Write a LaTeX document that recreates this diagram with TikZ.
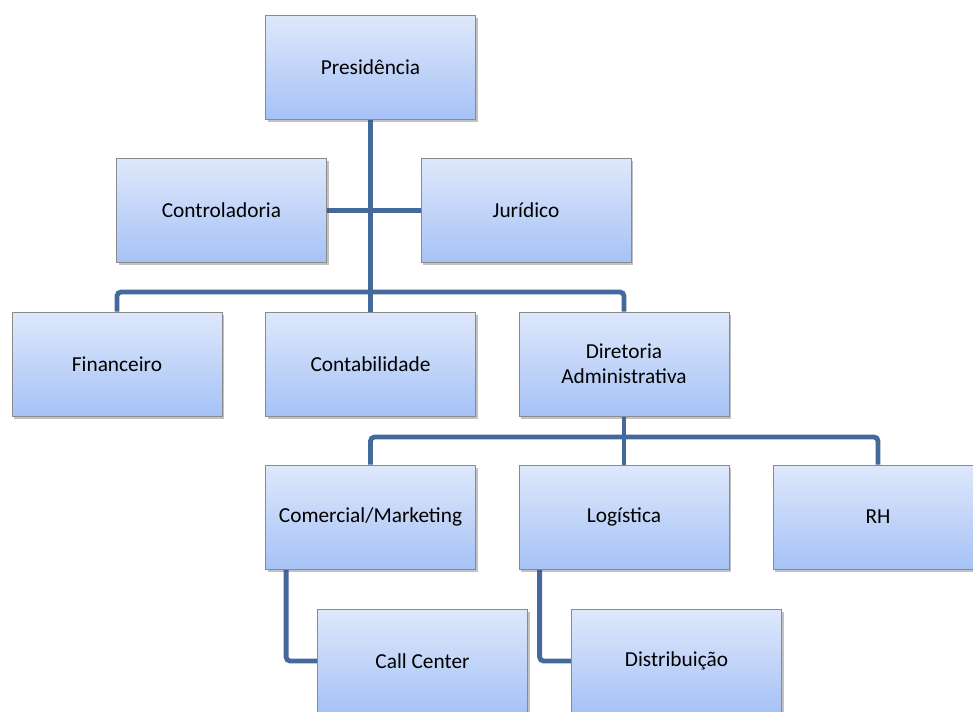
\documentclass[tikz,border=0pt]{standalone}
\usepackage{fontspec}
\setmainfont{Carlito}
\usetikzlibrary{shadows,backgrounds}
\definecolor{linec}{HTML}{44699B}
\definecolor{topc}{HTML}{DEE8FB}
\definecolor{botc}{HTML}{A6C2F6}
\definecolor{edgec}{HTML}{8A8A8A}
\begin{document}
\begin{tikzpicture}[x=0.75pt,y=-0.75pt,
  box/.style={draw=edgec, line width=0.6pt, top color=topc, bottom color=botc,
    minimum width=157.5pt, minimum height=78pt, align=center,
    font=\fontsize{16pt}{19pt}\selectfont, inner sep=2pt,
    drop shadow={shadow xshift=1.5pt, shadow yshift=-2.2pt, opacity=0.35, fill=black!70}},
  conn/.style={draw=linec, line width=3.6pt, rounded corners=3pt}]
\useasboundingbox (0,0) rectangle (973,711);
\clip (0,0) rectangle (973,711);
\coordinate (b1) at (370,292);
\coordinate (b2) at (624,437);
% boxes
\node[box] (pres) at (370.5,67) {Presidência};
\node[box] (ctrl) at (221.5,210.5) {Controladoria};
\node[box] (jur) at (526,210.5) {Jurídico};
\node[box] (fin) at (117,364) {Financeiro};
\node[box] (cont) at (370.5,364) {Contabilidade};
\node[box] (dir) at (624,364) {Diretoria\\Administrativa};
\node[box] (com) at (370.5,517) {Comercial/Marketing};
\node[box] (log) at (624,517) {Logística};
\node[box] (rh) at (878,517) {RH};
\node[box] (cc) at (422.5,661) {Call Center};
\node[box] (dist) at (676.5,661) {Distribuição};
% connectors
\begin{scope}[on background layer]
\draw[conn] (pres.south) -- (cont.north);
\draw[conn] (ctrl.east) -- (jur.west);
\draw[conn] (fin.north) |- (b1) -| (dir.north);
\draw[conn] (dir.south) -- (log.north);
\draw[conn] (com.north) |- (b2) -| (rh.north);
\draw[conn] ([xshift=15.75pt]com.south west) |- (cc.west);
\draw[conn] ([xshift=15.75pt]log.south west) |- (dist.west);
\end{scope}
\end{tikzpicture}
\end{document}
